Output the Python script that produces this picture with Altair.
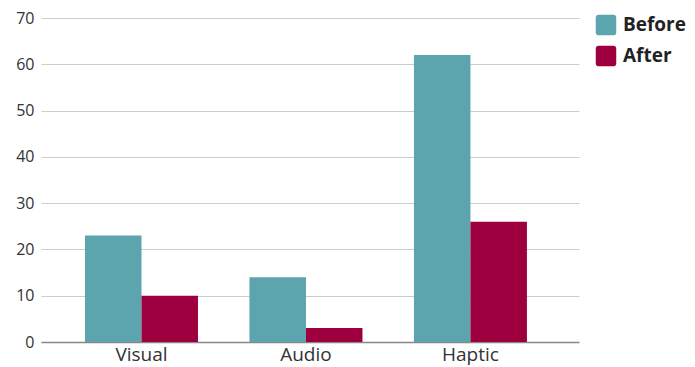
import altair as alt
import pandas as pd

categories = ["Visual", "Audio", "Haptic"]
before = [23, 14, 62]
after = [10, 3, 26]
series = ["Before", "After"]
colors = ["#5ca4ae", "#9e003f"]

rows = []
for c, b, a in zip(categories, before, after):
    rows.append({"modality": c, "phase": "Before", "value": b})
    rows.append({"modality": c, "phase": "After", "value": a})
df = pd.DataFrame(rows)

font = "Open Sans"
rounded = "M-0.7,-1 L0.7,-1 Q1,-1 1,-0.7 L1,0.7 Q1,1 0.7,1 L-0.7,1 Q-1,1 -1,0.7 L-1,-0.7 Q-1,-1 -0.7,-1 Z"

chart = alt.Chart(df).mark_bar().encode(
    x=alt.X("modality:N", sort=categories, title=None,
            scale=alt.Scale(paddingInner=0.313, paddingOuter=0.292, align=0.458),
            axis=alt.Axis(labelAngle=0, labelFontSize=19, labelColor="#333333", labelFont=font,
                          ticks=False, domainColor="#888888", domainWidth=1.5, labelPadding=3)),
    xOffset=alt.XOffset("phase:N", sort=series),
    y=alt.Y("value:Q", title=None,
            scale=alt.Scale(domain=[0, 70], nice=False),
            axis=alt.Axis(values=[0, 10, 20, 30, 40, 50, 60, 70], domain=False, ticks=False,
                          labelFontSize=16, labelColor="#333333", labelFont=font, labelPadding=7,
                          gridColor="#cccccc", gridWidth=1)),
    color=alt.Color("phase:N", sort=series,
                    scale=alt.Scale(domain=series, range=colors),
                    legend=alt.Legend(title=None, orient="none", legendX=554, legendY=-4,
                                      symbolType=rounded, symbolSize=420, symbolOpacity=1,
                                      labelFontSize=19, labelFontWeight="bold", labelFont=font,
                                      labelColor="#222222", rowPadding=9, labelOffset=6)),
).properties(
    width=538, height=324,
    autosize=alt.AutoSizeParams(type="none"),
    padding={"left": 41, "top": 18, "right": 116, "bottom": 25},
).configure_view(stroke=None)

chart.save("out.html", embed_options={"renderer": "svg", "actions": False})
